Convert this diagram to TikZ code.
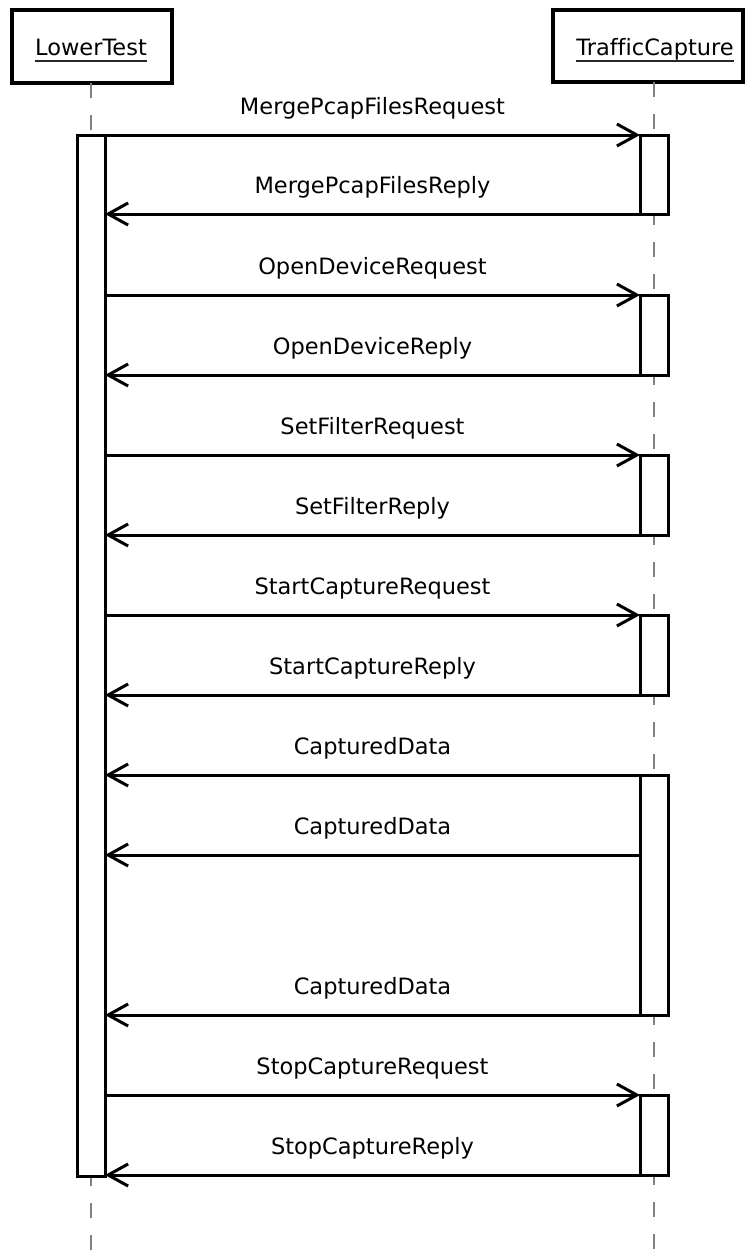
\documentclass[tikz,border=0pt]{standalone}
\usepackage{fontspec}
\setmainfont[Ligatures=NoCommon]{DejaVu Sans}
\usetikzlibrary{arrows.meta}
\begin{document}
\begin{tikzpicture}[x=1pt,y=-1pt,
  every node/.style={font=\fontsize{22.5}{27}\selectfont, inner sep=0pt, outer sep=0pt},
  actor/.style={draw, line width=3.5pt, fill=white},
  bar/.style={draw, fill=white, line width=3pt, minimum width=28pt},
  life/.style={draw=black!50, line width=2.2pt, dash pattern=on 15pt off 17pt},
  msg/.style={line width=3pt, -{Straight Barb[length=20pt,width=22pt]}},
  lbl/.style={midway, anchor=base, yshift=21pt},
  uline/.style={line width=1.6pt, black!85}]
\useasboundingbox (0,0) rectangle (745,1250);
% actors
\node[actor, minimum width=160pt, minimum height=73pt] (LT) at (92,46.5) {};
\node[actor, minimum width=190pt, minimum height=72pt] (TC) at (648,46) {};
\node[anchor=base] (LTt) at (91,55) {LowerTest};
\node[anchor=base] (TCt) at (655,55) {TrafficCapture};
\draw[uline] ([yshift=-6pt]LTt.base west) -- ([yshift=-6pt]LTt.base east);
\draw[uline] ([yshift=-6pt]TCt.base west) -- ([yshift=-6pt]TCt.base east);
% lifelines
\coordinate (LTs) at (91,83);
\coordinate (LTe) at (91,1250);
\coordinate (TCs) at (654,82);
\coordinate (TCe) at (654,1250);
\draw[life] (LTs) -- (LTe);
\draw[life] (TCs) -- (TCe);
% activation bars
\node[bar, minimum height=1041pt] (LTbar) at (91,655.5) {};
\node[bar, minimum height=79pt] (TC1) at (654,174.5) {};
\node[bar, minimum height=80pt] (TC2) at (654,335) {};
\node[bar, minimum height=80pt] (TC3) at (654,495) {};
\node[bar, minimum height=80pt] (TC4) at (654,655) {};
\node[bar, minimum height=240pt] (TC5) at (654,895) {};
\node[bar, minimum height=80pt] (TC6) at (654,1135) {};
% messages
\draw[msg] (LTbar.east |- TC1.north) -- (TC1.north west) node[lbl] {MergePcapFilesRequest};
\draw[msg] (TC1.south west) -- (LTbar.east |- TC1.south) node[lbl] {MergePcapFilesReply};
\draw[msg] (LTbar.east |- TC2.north) -- (TC2.north west) node[lbl] {OpenDeviceRequest};
\draw[msg] (TC2.south west) -- (LTbar.east |- TC2.south) node[lbl] {OpenDeviceReply};
\draw[msg] (LTbar.east |- TC3.north) -- (TC3.north west) node[lbl] {SetFilterRequest};
\draw[msg] (TC3.south west) -- (LTbar.east |- TC3.south) node[lbl] {SetFilterReply};
\draw[msg] (LTbar.east |- TC4.north) -- (TC4.north west) node[lbl] {StartCaptureRequest};
\draw[msg] (TC4.south west) -- (LTbar.east |- TC4.south) node[lbl] {StartCaptureReply};
\draw[msg] (TC5.north west) -- (LTbar.east |- TC5.north) node[lbl] {CapturedData};
\path (TC5.north west) ++(0,80) coordinate (cd2);
\draw[msg] (cd2) -- (LTbar.east |- cd2) node[lbl] {CapturedData};
\draw[msg] (TC5.south west) -- (LTbar.east |- TC5.south) node[lbl] {CapturedData};
\draw[msg] (LTbar.east |- TC6.north) -- (TC6.north west) node[lbl] {StopCaptureRequest};
\draw[msg] (TC6.south west) -- (LTbar.east |- TC6.south) node[lbl] {StopCaptureReply};
\end{tikzpicture}
\end{document}
